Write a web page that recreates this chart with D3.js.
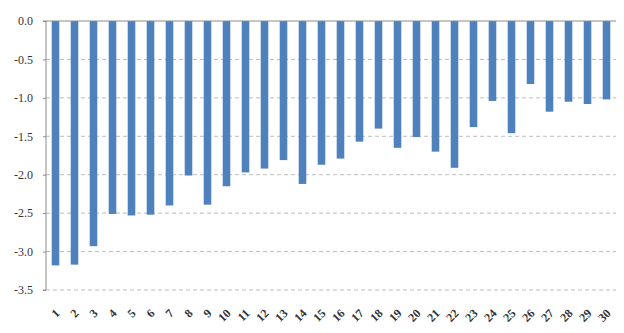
<!DOCTYPE html>
<html>
<head>
<meta charset="utf-8">
<script src="https://cdn.jsdelivr.net/npm/d3@7"></script>
<style>
  body { margin: 0; background: #fff; }
  svg text { font-family: "Liberation Serif", "Times New Roman", serif; fill: #333; }
</style>
</head>
<body>
<svg id="bar-chart"></svg>
<script>
// categories and values
const categories = d3.range(1, 31).map(String);
const values = [-3.18, -3.17, -2.93, -2.51, -2.53, -2.52, -2.40, -2.01, -2.39, -2.15,
                -1.97, -1.92, -1.81, -2.12, -1.87, -1.79, -1.57, -1.40, -1.65, -1.51,
                -1.70, -1.91, -1.38, -1.04, -1.46, -0.82, -1.18, -1.05, -1.08, -1.02];
const yTicks = [0, -0.5, -1.0, -1.5, -2.0, -2.5, -3.0, -3.5];

document.addEventListener('DOMContentLoaded', function () {
    var margin = { top: 21, right: 8, bottom: 43, left: 46 };
    var width = 624 - margin.left - margin.right;
    var height = 333 - margin.top - margin.bottom;

    const svg = d3.select('#bar-chart')
        .attr("width", 624)
        .attr("height", 333)
        .append("g")
        .attr("transform", `translate(${margin.left},${margin.top})`);

    const x = d3.scaleBand()
        .domain(categories)
        .range([0, width])
        .paddingInner(0.6)
        .paddingOuter(0.3);

    const y = d3.scaleLinear()
        .domain([0, -3.5])
        .range([0, height]);

    // dashed gridlines
    svg.append("g")
        .selectAll("line")
        .data(yTicks.filter(d => d !== 0))
        .enter().append("line")
        .attr("x1", 0)
        .attr("x2", width)
        .attr("y1", d => y(d))
        .attr("y2", d => y(d))
        .attr("stroke", "#bdbdbd")
        .attr("stroke-dasharray", "4,3");

    // bars
    svg.selectAll("rect.bar")
        .data(values)
        .enter().append("rect")
        .attr("class", "bar")
        .attr("x", (d, i) => x(categories[i]))
        .attr("y", y(0))
        .attr("width", x.bandwidth())
        .attr("height", d => y(d) - y(0))
        .attr("fill", "#4f81bd");

    // zero line at top
    svg.append("line")
        .attr("x1", 0)
        .attr("x2", width)
        .attr("y1", y(0))
        .attr("y2", y(0))
        .attr("stroke", "#8c8c8c");

    // y axis (plain hyphen minus like the original)
    const yAxis = svg.append("g")
        .call(d3.axisLeft(y).tickValues(yTicks).tickFormat(d => d.toFixed(1)).tickSize(3).tickPadding(10));
    yAxis.select(".domain").attr("stroke", "#8c8c8c").attr("d", `M-3,0H0V${height}H-3`);
    yAxis.selectAll(".tick line").attr("stroke", "#8c8c8c");
    yAxis.selectAll(".tick text")
        .style("font-size", "12px")
        .style("font-family", "Liberation Serif, serif")
        .attr("fill", "#333");

    // x labels, rotated -45 and ending under each bar
    svg.append("g")
        .selectAll("text")
        .data(categories)
        .enter().append("text")
        .attr("transform", d => `translate(${x(d) + x.bandwidth() / 2 + 2},${height + 21}) rotate(-45)`)
        .attr("text-anchor", "end")
        .attr("dy", "0.35em")
        .style("font-size", "12px")
        .style("font-weight", "bold")
        .text(d => d);
});
</script>
</body>
</html>
